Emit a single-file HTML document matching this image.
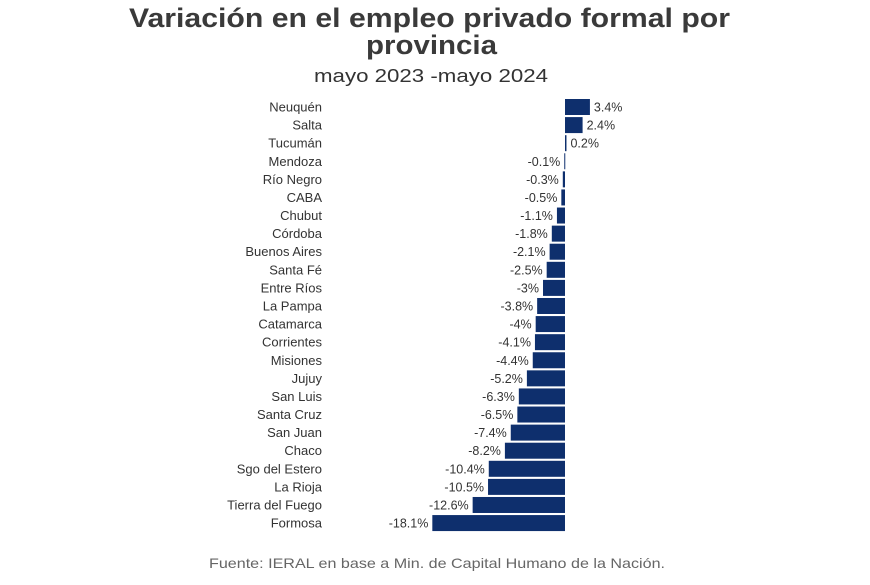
<!DOCTYPE html>
<html><head><meta charset="utf-8"><style>
body{margin:0;background:#fff;width:870px;height:580px;overflow:hidden;font-family:"Liberation Sans",sans-serif}
</style></head><body>
<svg width="870" height="580">
<text x="129" y="27" textLength="601" lengthAdjust="spacingAndGlyphs" font-size="27" font-weight="bold" fill="#3a3a3a">Variación en el empleo privado formal por</text>
<text x="366" y="54" textLength="131" lengthAdjust="spacingAndGlyphs" font-size="27" font-weight="bold" fill="#3a3a3a">provincia</text>
<text x="314" y="82" textLength="234" lengthAdjust="spacingAndGlyphs" font-size="18" fill="#333">mayo 2023 -mayo 2024</text>
<g id="bars"></g>
<text x="209" y="568" textLength="456" lengthAdjust="spacingAndGlyphs" font-size="14" fill="#666">Fuente: IERAL en base a Min. de Capital Humano de la Nación.</text>
</svg>
<script>
const categories=["Neuquén","Salta","Tucumán","Mendoza","Río Negro","CABA","Chubut","Córdoba","Buenos Aires","Santa Fé","Entre Ríos","La Pampa","Catamarca","Corrientes","Misiones","Jujuy","San Luis","Santa Cruz","San Juan","Chaco","Sgo del Estero","La Rioja","Tierra del Fuego","Formosa"];
const values=[3.4,2.4,0.2,-0.1,-0.3,-0.5,-1.1,-1.8,-2.1,-2.5,-3,-3.8,-4,-4.1,-4.4,-5.2,-6.3,-6.5,-7.4,-8.2,-10.4,-10.5,-12.6,-18.1];
const valueLabels=["3.4%","2.4%","0.2%","-0.1%","-0.3%","-0.5%","-1.1%","-1.8%","-2.1%","-2.5%","-3%","-3.8%","-4%","-4.1%","-4.4%","-5.2%","-6.3%","-6.5%","-7.4%","-8.2%","-10.4%","-10.5%","-12.6%","-18.1%"];
const NS="http://www.w3.org/2000/svg",g=document.getElementById('bars');
const x=v=>565+v*7.33, y=i=>107+i*18.09, bh=16;
categories.forEach((c,i)=>{
 const v=values[i],cy=y(i);
 const t=document.createElementNS(NS,'text');
 
 
 t.setAttribute('x',322);t.setAttribute('y',cy+4.5);t.setAttribute('text-anchor','end');t.setAttribute('font-size','13');t.setAttribute('fill','#333');t.textContent=c;g.appendChild(t);
 const r=document.createElementNS(NS,'rect');
 
 
 r.setAttribute('x',Math.min(x(0),x(v)));r.setAttribute('y',cy-bh/2);r.setAttribute('width',Math.max(1,Math.abs(x(v)-x(0))));r.setAttribute('height',bh);r.setAttribute('fill','#0e2f6d');g.appendChild(r);
 const l=document.createElementNS(NS,'text');
 
 
 const pos=v>=0;
 l.setAttribute('x',pos?x(v)+4:x(v)-4);l.setAttribute('y',cy+4.5);l.setAttribute('text-anchor',pos?'start':'end');l.setAttribute('font-size','12.5');l.setAttribute('fill','#333');l.textContent=valueLabels[i];g.appendChild(l);
});
</script>
</body></html>
